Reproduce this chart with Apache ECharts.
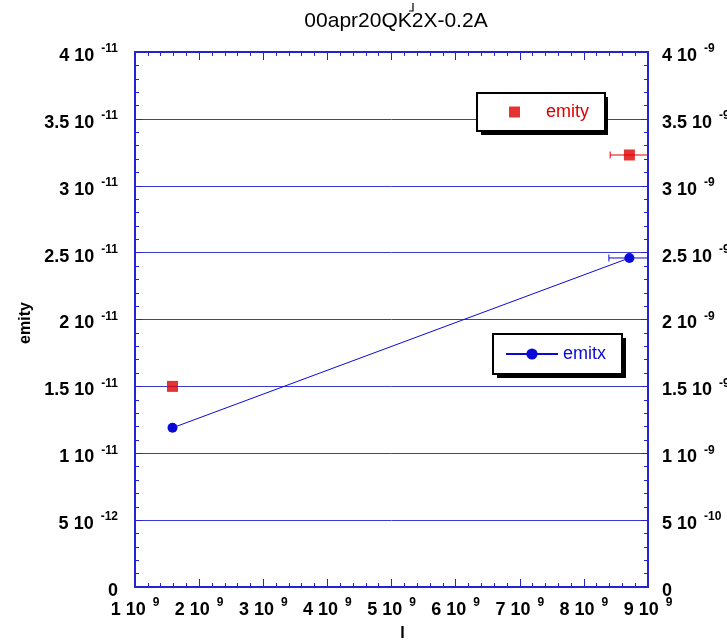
<!DOCTYPE html>
<html>
<head>
<meta charset="utf-8">
<script src="https://cdn.jsdelivr.net/npm/echarts@6/dist/echarts.min.js"></script>
<style>
  html, body { margin: 0; padding: 0; background: #ffffff; }
  #chart { width: 727px; height: 641px; }
</style>
</head>
<body>
<div id="chart"></div>
<script>
// Beam current I and measured emittances
const currentI = [1.585e9, 8.71e9];
const emityValues = [1.5e-11, 3.23e-11];      // left axis
const emitxValues = [1.19e-9, 2.46e-9];       // right axis
const emityErrI = [0, 0.3e9];
const emitxErrI = [0, 0.32e9];

// Tick labels written as mantissa + power of ten
const xTickLabels = {
  1: ['1 10', '9'], 2: ['2 10', '9'], 3: ['3 10', '9'], 4: ['4 10', '9'],
  5: ['5 10', '9'], 6: ['6 10', '9'], 7: ['7 10', '9'], 8: ['8 10', '9'], 9: ['9 10', '9']
};
const leftTickLabels = [['0', ''], ['5 10', '-12'], ['1 10', '-11'], ['1.5 10', '-11'], ['2 10', '-11'],
  ['2.5 10', '-11'], ['3 10', '-11'], ['3.5 10', '-11'], ['4 10', '-11']];
const rightTickLabels = [['0', ''], ['5 10', '-10'], ['1 10', '-9'], ['1.5 10', '-9'], ['2 10', '-9'],
  ['2.5 10', '-9'], ['3 10', '-9'], ['3.5 10', '-9'], ['4 10', '-9']];

const AXIS_BLUE = '#2323d6';
const GRID_BLUE = '#3a3ad8';
const SERIES_BLUE = '#0a0ad8';
const SERIES_RED = '#de0000';
const FONT = '"Liberation Sans", Arial, Helvetica, sans-serif';

const rich = {
  m: { fontFamily: FONT, fontSize: 18, fontWeight: 'bold', color: '#000', verticalAlign: 'bottom', lineHeight: 22 },
  s: { fontFamily: FONT, fontSize: 12, fontWeight: 'bold', color: '#000', verticalAlign: 'top', padding: [0, 0, 0, 7] }
};
function sciLabel(pair) {
  return pair[1] ? '{m|' + pair[0] + '}{s|' + pair[1] + '}' : '{m|' + pair[0] + '}';
}

const chart = echarts.init(document.getElementById('chart'), null, { renderer: 'canvas' });

function errorBarSeries(name, values, errs, color, yAxisIndex) {
  return {
    name: name + ' err',
    type: 'custom',
    xAxisIndex: 0,
    yAxisIndex: yAxisIndex,
    clip: true,
    silent: true,
    z: 1,
    data: currentI.map((x, i) => [x, values[i], errs[i]]),
    renderItem: function (params, api) {
      const x = api.value(0), y = api.value(1), e = api.value(2);
      if (!e) return null;
      const lo = api.coord([x - e, y]);
      const hi = api.coord([x + e, y]);
      const cap = 3.5;
      return {
        type: 'group',
        children: [
          { type: 'line', shape: { x1: lo[0], y1: lo[1], x2: hi[0], y2: hi[1] }, style: { stroke: color, lineWidth: 1 } },
          { type: 'line', shape: { x1: lo[0], y1: lo[1] - cap, x2: lo[0], y2: lo[1] + cap }, style: { stroke: color, lineWidth: 1 } },
          { type: 'line', shape: { x1: hi[0], y1: hi[1] - cap, x2: hi[0], y2: hi[1] + cap }, style: { stroke: color, lineWidth: 1 } }
        ]
      };
    }
  };
}

const legendBase = {
  orient: 'vertical',
  backgroundColor: '#ffffff',
  borderColor: '#000', borderWidth: 2, borderRadius: 0,
  selectedMode: false,
  z: 6
};

const option = {
  backgroundColor: '#ffffff',
  animation: false,
  title: {
    text: '00apr20QK2X-0.2A',
    left: 391,
    top: 6,
    textAlign: 'center',
    textStyle: { fontFamily: FONT, fontSize: 21, fontWeight: 'normal', color: '#000' }
  },
  grid: { left: 135, right: 79, top: 52, bottom: 54, containLabel: false, outerBoundsMode: 'none' },
  legend: [
    Object.assign({}, legendBase, {
      data: [{ name: 'emity', icon: 'rect' }],
      left: 477, top: 93,
      itemWidth: 11, itemHeight: 11,
      padding: [10, 16, 10, 32],
      textStyle: { fontFamily: FONT, fontSize: 18, color: SERIES_RED, padding: [0, 0, 0, 21] }
    }),
    Object.assign({}, legendBase, {
      data: ['emitx'],
      left: 493, top: 334,
      itemWidth: 52, itemHeight: 14,
      padding: [11, 16, 11, 12],
      textStyle: { fontFamily: FONT, fontSize: 18, color: SERIES_BLUE }
    })
  ],
  xAxis: [
    {
      type: 'value', position: 'bottom',
      min: 1e9, max: 9e9, interval: 1e9,
      name: 'I', nameLocation: 'middle', nameGap: 39,
      nameTextStyle: { fontFamily: FONT, fontSize: 16, fontWeight: 'bold', color: '#000', padding: [0, 0, 0, 22] },
      axisLine: { show: true, onZero: false, lineStyle: { color: AXIS_BLUE, width: 2 } },
      axisTick: { show: true, inside: true, length: 8, lineStyle: { color: AXIS_BLUE, width: 1 } },
      minorTick: { show: true, splitNumber: 5, length: 4, lineStyle: { color: AXIS_BLUE, width: 1 } },
      splitLine: { show: false },
      axisLabel: {
        margin: 10,
        formatter: v => sciLabel(xTickLabels[Math.round(v / 1e9)]),
        rich: rich
      }
    },
    {
      type: 'value', position: 'top',
      min: 1e9, max: 9e9, interval: 1e9,
      axisLine: { show: true, onZero: false, lineStyle: { color: AXIS_BLUE, width: 2 } },
      axisTick: { show: true, inside: true, length: 8, lineStyle: { color: AXIS_BLUE, width: 1 } },
      minorTick: { show: true, splitNumber: 5, length: 4, lineStyle: { color: AXIS_BLUE, width: 1 } },
      splitLine: { show: false },
      axisLabel: { show: false }
    }
  ],
  yAxis: [
    {
      type: 'value', position: 'left',
      min: 0, max: 4e-11, interval: 0.5e-11,
      name: 'emity', nameLocation: 'middle', nameGap: 100, nameRotate: 90,
      nameTextStyle: { fontFamily: FONT, fontSize: 16, fontWeight: 'bold', color: '#000', padding: [0, 7, 0, 0] },
      axisLine: { show: true, onZero: false, lineStyle: { color: AXIS_BLUE, width: 2 } },
      axisTick: { show: true, inside: true, length: 7, lineStyle: { color: AXIS_BLUE, width: 1 } },
      minorTick: { show: true, splitNumber: 5, length: 4, lineStyle: { color: AXIS_BLUE, width: 1 } },
      splitLine: { show: true, lineStyle: { color: GRID_BLUE, width: 1 } },
      axisLabel: {
        margin: 17,
        padding: [4, 0, 0, 0],
        formatter: (v, i) => sciLabel(leftTickLabels[i]),
        rich: rich
      }
    },
    {
      type: 'value', position: 'right',
      min: 0, max: 4e-9, interval: 0.5e-9,
      axisLine: { show: true, onZero: false, lineStyle: { color: AXIS_BLUE, width: 2 } },
      axisTick: { show: true, inside: true, length: 7, lineStyle: { color: AXIS_BLUE, width: 1 } },
      minorTick: { show: true, splitNumber: 5, length: 4, lineStyle: { color: AXIS_BLUE, width: 1 } },
      splitLine: { show: false },
      axisLabel: {
        margin: 14,
        padding: [4, 0, 0, 0],
        formatter: (v, i) => sciLabel(rightTickLabels[i]),
        rich: rich
      }
    }
  ],
  graphic: [
    // hard drop shadows behind the two legend boxes
    { type: 'rect', shape: { x: 481, y: 97, width: 127, height: 38 }, style: { fill: '#000' }, z: 5 },
    { type: 'rect', shape: { x: 497, y: 338, width: 129, height: 40 }, style: { fill: '#000' }, z: 5 },
    {
      type: 'polyline',
      shape: { points: [[413, 3], [413, 11], [409, 11]] },
      style: { stroke: '#000', lineWidth: 1.2, fill: null },
      z: 10
    }
  ],
  series: [
    errorBarSeries('emity', emityValues, emityErrI, SERIES_RED, 0),
    errorBarSeries('emitx', emitxValues, emitxErrI, SERIES_BLUE, 1),
    {
      name: 'emity',
      type: 'scatter',
      xAxisIndex: 0, yAxisIndex: 0,
      symbol: 'rect', symbolSize: 11,
      itemStyle: { color: SERIES_RED },
      z: 3,
      data: currentI.map((x, i) => [x, emityValues[i]])
    },
    {
      name: 'emitx',
      type: 'line',
      xAxisIndex: 0, yAxisIndex: 1,
      symbol: 'circle', symbolSize: 10, showSymbol: true,
      lineStyle: { color: SERIES_BLUE, width: 1 },
      itemStyle: { color: SERIES_BLUE },
      z: 3,
      data: currentI.map((x, i) => [x, emitxValues[i]])
    }
  ]
};

chart.setOption(option);
</script>
</body>
</html>
